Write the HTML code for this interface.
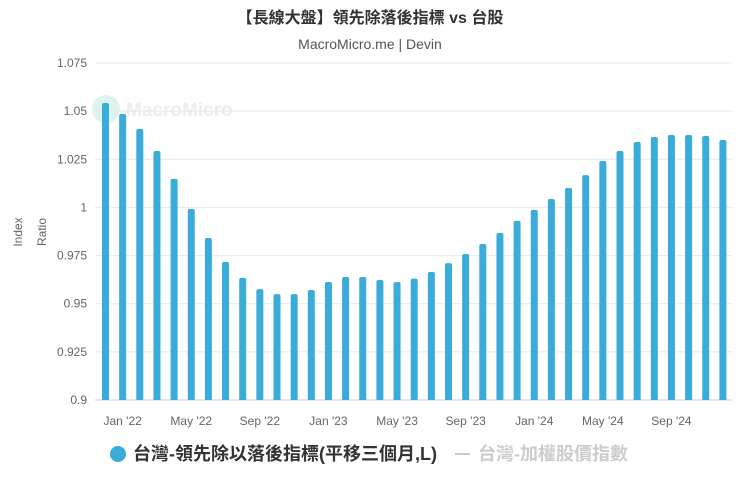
<!DOCTYPE html>
<html><head><meta charset="utf-8">
<style>
body{margin:0;background:#fff;font-family:"Liberation Sans","Noto Sans CJK TC",sans-serif;}
svg text{font-family:"Liberation Sans","Noto Sans CJK TC",sans-serif;}
</style></head>
<body>
<svg width="740" height="482" viewBox="0 0 740 482" xmlns="http://www.w3.org/2000/svg">
<text x="370" y="23" text-anchor="middle" font-size="16" font-weight="bold" fill="#333">【長線大盤】領先除落後指標 vs 台股</text>
<text x="370" y="49" text-anchor="middle" font-size="14" fill="#555">MacroMicro.me | Devin</text>
<g opacity="0.35">
<circle cx="106" cy="109" r="14" fill="#9be3cf"/>
<text x="126" y="116" font-size="19" font-weight="bold" fill="#ccc">MacroMicro</text>
</g>
<text transform="translate(22,232) rotate(-90)" text-anchor="middle" font-size="12" fill="#666">Index</text>
<text transform="translate(46,232) rotate(-90)" text-anchor="middle" font-size="12" fill="#666">Ratio</text>
<g id="grid"></g><g id="bars"></g><g id="xl"></g>
<g>
<g>
<circle cx="118" cy="454" r="8" fill="#3aacd9"/>
<text x="133" y="460" font-size="18" font-weight="bold" fill="#333" textLength="304">台灣-領先除以落後指標(平移三個月,L)</text>
</g>
<g>
<line x1="455" y1="454" x2="470" y2="454" stroke="#ccc" stroke-width="2"/>
<text x="478" y="460" font-size="18" font-weight="bold" fill="#ccc">台灣-加權股價指數</text>
</g>
</g>
</svg>
<script>
const months=["Dec '21","Jan '22","Feb '22","Mar '22","Apr '22","May '22","Jun '22","Jul '22","Aug '22","Sep '22","Oct '22","Nov '22","Dec '22","Jan '23","Feb '23","Mar '23","Apr '23","May '23","Jun '23","Jul '23","Aug '23","Sep '23","Oct '23","Nov '23","Dec '23","Jan '24","Feb '24","Mar '24","Apr '24","May '24","Jun '24","Jul '24","Aug '24","Sep '24","Oct '24","Nov '24","Dec '24"];
const ratio=[1.0542,1.0485,1.0407,1.0293,1.0148,0.9992,0.9841,0.9717,0.9634,0.9576,0.955,0.955,0.9571,0.9613,0.9639,0.9639,0.9623,0.9613,0.963,0.9665,0.9711,0.9758,0.981,0.9867,0.993,0.9987,1.0044,1.0101,1.0168,1.0241,1.0293,1.034,1.0366,1.0376,1.0376,1.0371,1.035];
const yTicks=[0.9,0.925,0.95,0.975,1,1.025,1.05,1.075];
const yTickLabels=["0.9","0.925","0.95","0.975","1","1.025","1.05","1.075"];
const xLabelIdx=[1,5,9,13,17,21,25,29,33];
const NS="http://www.w3.org/2000/svg";
const y=v=>400-(v-0.9)/0.175*337;
const x=i=>105.5+i*17.15;
const g=document.getElementById('grid'),b=document.getElementById('bars'),xl=document.getElementById('xl');
function mk(tag,at,par){const e=document.createElementNS(NS,tag);for(const k in at)e.setAttribute(k,at[k]);par.appendChild(e);return e;}
yTicks.forEach((t,i)=>{
 const l=mk('line',{x1:95,x2:732,y1:y(t),y2:y(t),stroke:i==0?'#ccc':'#e8e8e8','stroke-width':1},g);
 
 
 const tx=mk('text',{x:87,y:y(t)+4,'text-anchor':'end','font-size':12,fill:'#666'},g);
 tx.textContent=yTickLabels[i];
 
 
});
ratio.forEach((v,i)=>{
 const top=y(v);
 const p=mk('path',{d:`M${x(i)-3.5},400 V${top+2} Q${x(i)-3.5},${top} ${x(i)-1.5},${top} H${x(i)+1.5} Q${x(i)+3.5},${top} ${x(i)+3.5},${top+2} V400 Z`,fill:'#3aacd9'},b);
 
 
});
xLabelIdx.forEach(i=>{
 const t=mk('text',{x:x(i),y:425,'text-anchor':'middle','font-size':12,fill:'#666'},xl);
 t.textContent=months[i];
 
 
});
</script>
</body></html>
